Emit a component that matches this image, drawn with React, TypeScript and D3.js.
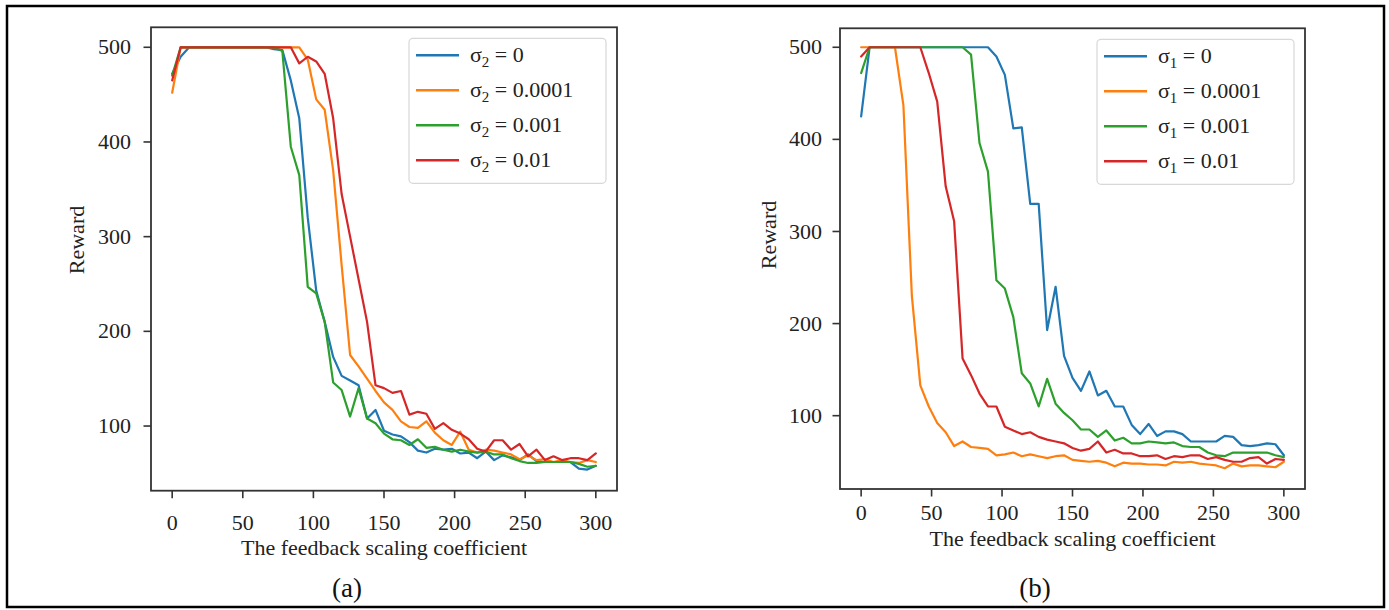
import React from 'react';
import * as d3 from 'd3';

// ---------- data ----------
const X_VALUES = [
  0, 6, 12, 18, 24, 30, 36, 42, 48, 54, 60, 66, 72, 78, 84, 90, 96, 102, 108, 114,
  120, 126, 132, 138, 144, 150, 156, 162, 168, 174, 180, 186, 192, 198, 204, 210,
  216, 222, 228, 234, 240, 246, 252, 258, 264, 270, 276, 282, 288, 294, 300,
];

const X_TICKS = [0, 50, 100, 150, 200, 250, 300];
const Y_TICKS = [100, 200, 300, 400, 500];
const SIGMA_VALUES = ['0', '0.0001', '0.001', '0.01'];
const COLORS = ['#1f77b4', '#ff7f0e', '#2ca02c', '#d62728'];

// Panel (a): sigma_2
const A_SIGMA0 = [
  472, 490, 500, 500, 500, 500, 500, 500, 500, 500, 500, 500, 498, 497, 465, 425, 320, 243, 210, 173,
  153, 148, 143, 108, 117, 95, 91, 89, 83, 74, 72, 76, 75, 76, 71, 72,
  66, 73, 64, 69, 67, 64, 70, 63, 62, 62, 62, 62, 55, 54, 58,
];
const A_SIGMA00001 = [
  452, 500, 500, 500, 500, 500, 500, 500, 500, 500, 500, 500, 500, 500, 500, 500, 487, 445, 434, 370,
  270, 175, 163, 150, 137, 125, 117, 105, 99, 98, 105, 93, 85, 80, 94, 75,
  72, 75, 74, 72, 70, 65, 69, 64, 65, 62, 64, 62, 61, 64, 62,
];
const A_SIGMA0001 = [
  470, 500, 500, 500, 500, 500, 500, 500, 500, 500, 500, 500, 500, 496, 395, 365, 247, 240, 210, 146,
  138, 110, 140, 108, 103, 92, 86, 85, 80, 86, 77, 78, 75, 73, 75, 73,
  72, 73, 70, 70, 66, 63, 61, 61, 62, 62, 62, 62, 60, 57, 58,
];
const A_SIGMA001 = [
  465, 500, 500, 500, 500, 500, 500, 500, 500, 500, 500, 500, 500, 500, 500, 483, 490, 485, 472, 425,
  345, 300, 255, 210, 143, 140, 135, 137, 112, 115, 113, 97, 103, 96, 92, 86,
  76, 73, 85, 85, 75, 81, 68, 75, 64, 68, 64, 66, 66, 64, 71,
];

// Panel (b): sigma_1
const B_SIGMA0 = [
  425, 500, 500, 500, 500, 500, 500, 500, 500, 500, 500, 500, 500, 500, 500, 500, 490, 470, 412, 413,
  330, 330, 193, 240, 165, 141, 127, 148, 122, 127, 110, 110, 90, 80, 91, 78,
  83, 83, 80, 72, 72, 72, 72, 78, 77, 68, 67, 68, 70, 69, 57,
];
const B_SIGMA00001 = [
  500, 500, 500, 500, 500, 437, 230, 133, 110, 92, 82, 67, 72, 66, 65, 64, 57, 58, 60, 56,
  58, 56, 54, 56, 57, 52, 51, 50, 51, 49, 45, 49, 48, 48, 47, 47,
  46, 50, 49, 50, 48, 47, 46, 43, 48, 45, 46, 46, 45, 44, 50,
];
const B_SIGMA0001 = [
  472, 500, 500, 500, 500, 500, 500, 500, 500, 500, 500, 500, 500, 492, 396, 365, 247, 238, 207, 146,
  135, 110, 140, 113, 103, 95, 85, 85, 77, 84, 73, 76, 70, 70, 72, 71,
  70, 71, 67, 66, 66, 60, 57, 56, 60, 60, 60, 60, 60, 57, 55,
];
const B_SIGMA001 = [
  490, 500, 500, 500, 500, 500, 500, 500, 472, 441, 349, 311, 162, 144, 124, 110, 110, 88, 84, 80,
  82, 77, 74, 72, 70, 65, 62, 64, 72, 60, 63, 59, 59, 56, 56, 57,
  53, 56, 55, 57, 57, 53, 55, 52, 50, 50, 54, 55, 48, 53, 52,
];

const SERIES_A = [A_SIGMA0, A_SIGMA00001, A_SIGMA0001, A_SIGMA001];
const SERIES_B = [B_SIGMA0, B_SIGMA00001, B_SIGMA0001, B_SIGMA001];

// ---------- layout ----------
const FONT = '"Liberation Serif", "Times New Roman", Times, serif';
const W = 1389;
const H = 610;

interface PanelCfg {
  series: number[][];
  sub: string;
  caption: string;
  x0: number; x1: number; y0: number; y1: number;
  yDom: [number, number];
  tickBase: number;
  labelGap: number;
  xlabelBase: number;
  ylabelX: number;
  ylabelY: number;
  captionX: number;
}

const PANELS: PanelCfg[] = [
  {
    series: SERIES_A, sub: '2', caption: '(a)',
    x0: 151, x1: 617, y0: 27.3, y1: 490.7, yDom: [31.7, 521.1],
    tickBase: 530, labelGap: 20, xlabelBase: 555, ylabelX: 84, ylabelY: 240, captionX: 347,
  },
  {
    series: SERIES_B, sub: '1', caption: '(b)',
    x0: 840, x1: 1305, y0: 28.3, y1: 489, yDom: [20.4, 520.6],
    tickBase: 520, labelGap: 18, xlabelBase: 546, ylabelX: 776, ylabelY: 235, captionX: 1035,
  },
];

function Panel({ cfg }: { cfg: PanelCfg }) {
  const x = d3.scaleLinear().domain([-15, 315]).range([cfg.x0, cfg.x1]);
  const y = d3.scaleLinear().domain(cfg.yDom).range([cfg.y1, cfg.y0]);
  const line = d3
    .line<number>()
    .x((_, i) => x(X_VALUES[i]))
    .y((d) => y(d));
  const tickLen = 7.5;
  const axisColor = '#333';
  const fs = 22;

  const legW = 197;
  const legX = cfg.x1 - 11 - legW;
  const legY = cfg.y0 + 11;
  const rowY0 = legY + 17;
  const rowStep = 35;

  return (
    <g>
      {/* data lines */}
      {cfg.series.map((s, k) => (
        <path
          key={k}
          d={line(s) || ''}
          fill="none"
          stroke={COLORS[k]}
          strokeWidth={2.2}
          strokeLinejoin="round"
          strokeLinecap="round"
        />
      ))}
      {/* axes frame */}
      <rect
        x={cfg.x0}
        y={cfg.y0}
        width={cfg.x1 - cfg.x0}
        height={cfg.y1 - cfg.y0}
        fill="none"
        stroke={axisColor}
        strokeWidth={1.8}
      />
      {/* x ticks */}
      {X_TICKS.map((t) => (
        <g key={'x' + t}>
          <line x1={x(t)} x2={x(t)} y1={cfg.y1} y2={cfg.y1 + tickLen} stroke={axisColor} strokeWidth={1.6} />
          <text x={x(t)} y={cfg.tickBase} textAnchor="middle" fontSize={fs} fontFamily={FONT} fill="#222">
            {t}
          </text>
        </g>
      ))}
      {/* y ticks */}
      {Y_TICKS.map((t) => (
        <g key={'y' + t}>
          <line x1={cfg.x0 - tickLen} x2={cfg.x0} y1={y(t)} y2={y(t)} stroke={axisColor} strokeWidth={1.6} />
          <text
            x={cfg.x0 - cfg.labelGap}
            y={y(t)}
            dy="0.32em"
            textAnchor="end"
            fontSize={fs}
            fontFamily={FONT}
            fill="#222"
          >
            {t}
          </text>
        </g>
      ))}
      {/* axis labels */}
      <text
        x={(cfg.x0 + cfg.x1) / 2}
        y={cfg.xlabelBase}
        textAnchor="middle"
        fontSize={fs}
        fontFamily={FONT}
        fill="#222"
      >
        The feedback scaling coefficient
      </text>
      <text
        transform={`translate(${cfg.ylabelX},${cfg.ylabelY}) rotate(-90)`}
        textAnchor="middle"
        fontSize={fs}
        fontFamily={FONT}
        fill="#222"
      >
        Reward
      </text>
      {/* legend */}
      <rect
        x={legX}
        y={legY}
        width={legW}
        height={145}
        rx={4}
        fill="#fff"
        fillOpacity={0.85}
        stroke="#d8d8d8"
        strokeWidth={1.2}
      />
      {SIGMA_VALUES.map((v, k) => {
        const ry = rowY0 + k * rowStep;
        return (
          <g key={'leg' + k}>
            <line x1={legX + 7} x2={legX + 50} y1={ry} y2={ry} stroke={COLORS[k]} strokeWidth={2.4} />
            <text x={legX + 61} y={ry + 7} fontSize={fs} fontFamily={FONT} fill="#222">
              σ
              <tspan dy={5} fontSize={15}>
                {cfg.sub}
              </tspan>
              <tspan dy={-5}>{' = ' + v}</tspan>
            </text>
          </g>
        );
      })}
      {/* caption */}
      <text x={cfg.captionX} y={597} textAnchor="middle" fontSize={27} fontFamily={FONT} fill="#111">
        {cfg.caption}
      </text>
    </g>
  );
}

export default function App() {
  return (
    <div style={{ position: 'absolute', left: 0, top: 0, width: W, height: H, background: '#fff' }}>
      <style>{'body{margin:0;}'}</style>
      <svg width={W} height={H} viewBox={`0 0 ${W} ${H}`} style={{ display: 'block' }}>
        <rect x={0} y={0} width={W} height={H} fill="#fff" />
        <rect x={7} y={6} width={1377} height={601} fill="none" stroke="#000" strokeWidth={2.5} />
        {PANELS.map((p, i) => (
          <Panel key={i} cfg={p} />
        ))}
      </svg>
    </div>
  );
}
